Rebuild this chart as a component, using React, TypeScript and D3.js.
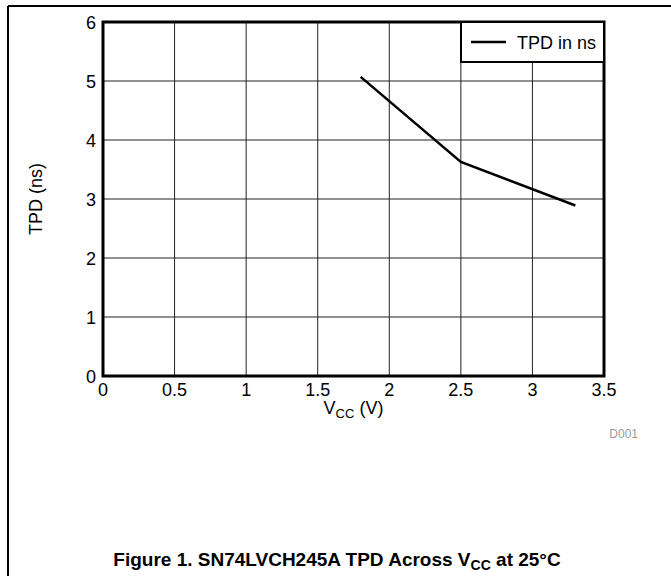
import React from 'react'
import * as d3 from 'd3'

// Measured curve: propagation delay vs supply voltage
const vccValues = [1.8, 2.5, 3.3]
const tpdValues = [5.07, 3.63, 2.89]
const xTicks = [0, 0.5, 1, 1.5, 2, 2.5, 3, 3.5]
const yTicks = [0, 1, 2, 3, 4, 5, 6]
const seriesName = 'TPD in ns'

const W = 671
const H = 576
const plot = { left: 103, right: 604, top: 22, bottom: 376 }
const font = '"Liberation Sans", Arial, sans-serif'

export default function App() {
  const x = d3.scaleLinear().domain([0, 3.5]).range([plot.left, plot.right])
  const y = d3.scaleLinear().domain([0, 6]).range([plot.bottom, plot.top])

  const line = d3.line<number>()
    .x((_, i) => x(vccValues[i]))
    .y(d => y(d))

  const legendX = 461
  const legendY = plot.top
  const legendW = plot.right - legendX
  const legendH = 40

  return (
    <svg
      width={W}
      height={H}
      style={{ position: 'absolute', left: 0, top: 0, background: '#fff' }}
      fontFamily={font}
    >
      {/* page frame */}
      <line x1={8} y1={6} x2={W} y2={6} stroke="#000" strokeWidth={2} />
      <line x1={8} y1={6} x2={8} y2={H} stroke="#000" strokeWidth={2} />

      {/* grid */}
      {xTicks.map(t => (
        <line key={'gx' + t} x1={x(t)} x2={x(t)} y1={plot.top} y2={plot.bottom}
          stroke="#222" strokeWidth={1} />
      ))}
      {yTicks.map(t => (
        <line key={'gy' + t} x1={plot.left} x2={plot.right} y1={y(t)} y2={y(t)}
          stroke="#222" strokeWidth={1} />
      ))}

      {/* plot frame */}
      <rect x={plot.left} y={plot.top} width={plot.right - plot.left}
        height={plot.bottom - plot.top} fill="none" stroke="#000" strokeWidth={3} />

      {/* tick labels */}
      {xTicks.map(t => (
        <text key={'tx' + t} x={x(t)} y={396} fontSize={18} textAnchor="middle">{t}</text>
      ))}
      {yTicks.map(t => (
        <text key={'ty' + t} x={96} y={y(t) + 6.5} fontSize={18} textAnchor="end">{t}</text>
      ))}

      {/* data */}
      <path d={line(tpdValues) || ''} fill="none" stroke="#000" strokeWidth={2.5} />

      {/* legend */}
      <rect x={legendX} y={legendY} width={legendW} height={legendH}
        fill="#fff" stroke="#000" strokeWidth={2} />
      <line x1={471} x2={506} y1={42} y2={42} stroke="#000" strokeWidth={2.5} />
      <text x={517} y={48.5} fontSize={18}>{seriesName}</text>

      {/* axis titles */}
      <text x={(plot.left + plot.right) / 2} y={414} fontSize={18} textAnchor="middle">
        V<tspan fontSize={13} dy={4}>CC</tspan><tspan dy={-4}> (V)</tspan>
      </text>
      <text transform={`translate(${42},${(plot.top + plot.bottom) / 2}) rotate(-90)`}
        fontSize={18} textAnchor="middle">TPD (ns)</text>

      <text x={638} y={438} fontSize={12} fill="#999" textAnchor="end">D001</text>

      {/* caption */}
      <text x={337} y={566} fontSize={19} fontWeight="bold" textAnchor="middle">
        Figure 1. SN74LVCH245A TPD Across V<tspan fontSize={14} dy={4}>CC</tspan>
        <tspan dy={-4}> at 25°C</tspan>
      </text>
    </svg>
  )
}
